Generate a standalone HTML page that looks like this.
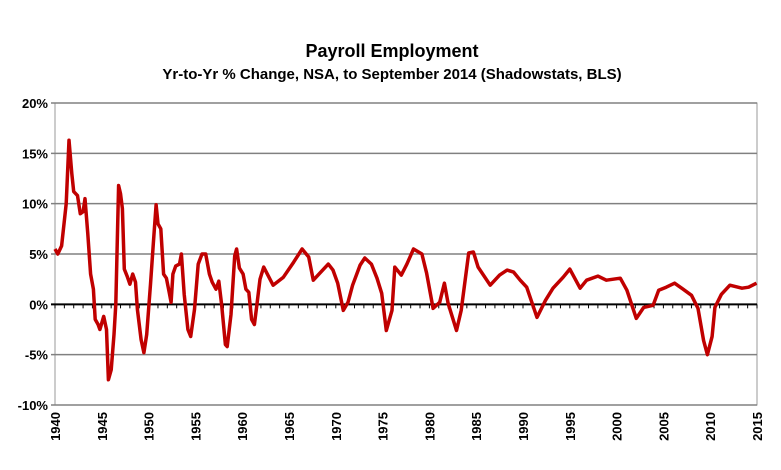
<!DOCTYPE html>
<html><head><meta charset="utf-8"><style>
body{margin:0;background:#fff;width:781px;height:465px;overflow:hidden;font-family:"Liberation Sans",Arial,sans-serif}
</style></head><body>
<svg id="chart" width="781" height="465" xmlns="http://www.w3.org/2000/svg">
<text x="392" y="57" text-anchor="middle" font-size="18" font-weight="bold">Payroll  Employment</text>
<text x="392" y="79" text-anchor="middle" font-size="15" font-weight="bold">Yr-to-Yr % Change, NSA, to September 2014 (Shadowstats, BLS)</text>
<g id="grid"></g><g id="axes"></g><g id="series"></g>
</svg>
<script>
const years=[1940,1940.3,1940.7,1941.2,1941.5,1941.8,1942,1942.4,1942.7,1943,1943.2,1943.5,1943.8,1944.1,1944.3,1944.6,1944.8,1945.2,1945.5,1945.7,1946,1946.3,1946.5,1946.8,1947,1947.2,1947.4,1947.7,1948,1948.3,1948.6,1948.8,1949.2,1949.5,1949.8,1950.2,1950.5,1950.8,1951,1951.3,1951.6,1951.9,1952.2,1952.4,1952.6,1952.9,1953.3,1953.5,1953.8,1954.2,1954.5,1954.9,1955.3,1955.7,1956.1,1956.5,1956.8,1957.2,1957.5,1957.8,1958.2,1958.4,1958.8,1959.2,1959.4,1959.7,1960.1,1960.4,1960.7,1961,1961.3,1961.6,1961.9,1962.3,1963.3,1964.4,1965.5,1966.4,1967.1,1967.6,1968.3,1969.2,1969.7,1970.2,1970.8,1971.3,1971.8,1972.6,1973.1,1973.8,1974.4,1974.9,1975.4,1976,1976.3,1977,1977.6,1978.3,1979.2,1979.7,1980.4,1981.1,1981.6,1982,1982.9,1983.4,1984.2,1984.7,1985.2,1986.5,1987.5,1988.3,1989,1989.7,1990.4,1991.5,1992.4,1993.2,1994.3,1995,1996.1,1996.8,1998,1998.9,2000.4,2001.1,2002.1,2002.9,2003.9,2004.5,2005.3,2006.2,2007.1,2008,2008.7,2009.3,2009.7,2010.2,2010.5,2011.2,2012.1,2013.4,2014.1,2014.95];
const values=[5.5,5,5.8,10,16.3,13,11.2,10.8,9,9.2,10.5,7,3,1.5,-1.5,-2,-2.5,-1.2,-2.5,-7.5,-6.5,-3,0,11.8,11,9.5,3.5,2.8,2,3,2.2,-0.5,-3.5,-4.8,-3,2,6,9.9,8,7.5,3,2.6,1.2,0.2,3,3.8,4,5,1,-2.5,-3.2,-0.5,4,5,5,3,2.2,1.5,2.3,0,-4,-4.2,-1,4.8,5.5,3.6,3,1.5,1.2,-1.5,-2,0.2,2.5,3.7,1.9,2.7,4.2,5.5,4.7,2.4,3.1,4.0,3.4,2.1,-0.6,0.2,1.9,3.9,4.6,4.0,2.6,1.1,-2.6,-0.6,3.7,2.9,4.0,5.5,5.0,3.1,-0.4,0.2,2.1,0.1,-2.6,-0.6,5.1,5.2,3.7,1.9,2.9,3.4,3.2,2.4,1.7,-1.3,0.4,1.6,2.7,3.5,1.6,2.4,2.8,2.4,2.6,1.4,-1.4,-0.3,-0.1,1.4,1.7,2.1,1.5,0.9,-0.4,-3.6,-5.0,-3.2,-0.3,1.0,1.9,1.6,1.7,2.1];
const yTicks=[20,15,10,5,0,-5,-10];
const xTicks=[1940,1945,1950,1955,1960,1965,1970,1975,1980,1985,1990,1995,2000,2005,2010,2015];
const L=55,R=757,T=103,B=405;
const X=y=>L+(y-1940)/75*(R-L);
const Y=v=>T+(20-v)/30*(B-T);
const NS="http://www.w3.org/2000/svg";
function mk(tag,attrs,parent,text){const e=document.createElementNS(NS,tag);for(const k in attrs)e.setAttribute(k,attrs[k]);if(text!==undefined)e.textContent=text;document.getElementById(parent).appendChild(e);return e;}
const frame=mk('rect',{x:L,y:T,width:R-L,height:B-T,fill:'none',stroke:'#999','stroke-width':1},'grid');


yTicks.forEach(v=>{
  const g=mk('line',{x1:L-4,x2:R,y1:Y(v),y2:Y(v),stroke:v===0?'#000':'#808080','stroke-width':v===0?2:1.5},'grid');
  
  
  const t=mk('text',{x:L-7,y:Y(v)+5,'text-anchor':'end','font-size':13,'font-weight':'bold'},'axes',v+'%');
  
  
});
for(let yr=1940;yr<=2015;yr++){
  const tk=mk('line',{x1:X(yr),x2:X(yr),y1:Y(0),y2:Y(0)+4,stroke:'#000','stroke-width':1},'axes');
  
  
}
xTicks.forEach(yr=>{
  const t=mk('text',{transform:`translate(${X(yr)+5},${B+7}) rotate(-90)`,'text-anchor':'end','font-size':13,'font-weight':'bold'},'axes',String(yr));
  
  
});
const d=years.map((yr,i)=>(i?'L':'M')+X(yr).toFixed(1)+' '+Y(values[i]).toFixed(1)).join(' ');
const p=mk('path',{d:d,fill:'none',stroke:'#c00000','stroke-width':3.5,'stroke-linejoin':'round'},'series');


</script>
</body></html>
